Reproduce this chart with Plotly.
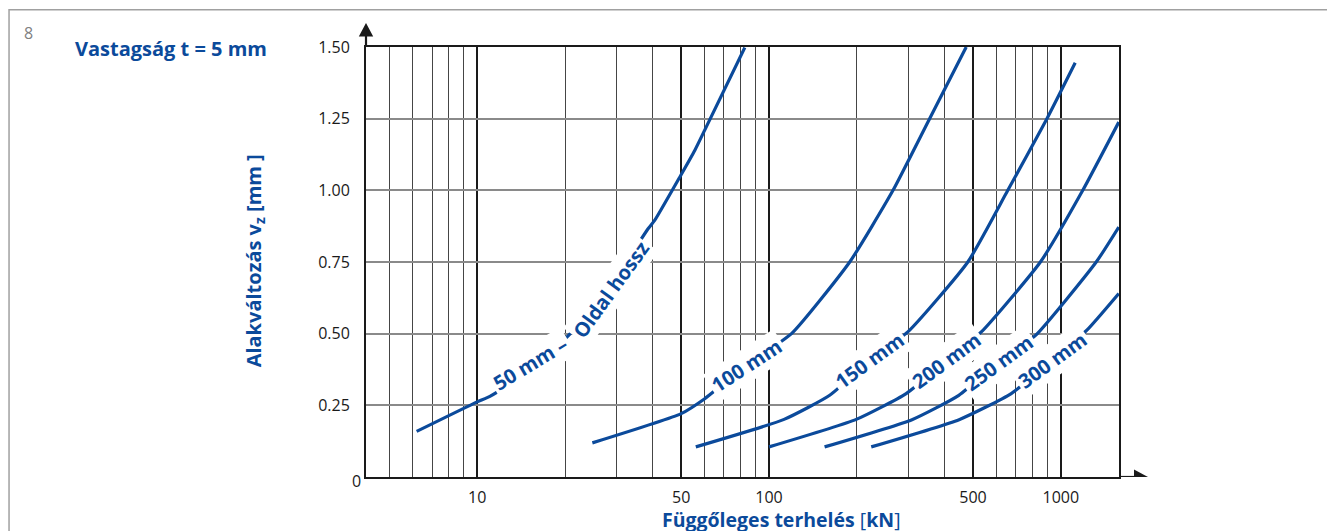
import math
import plotly.graph_objects as go

BLUE = "#0b4a9b"
FONT = "Open Sans"

# ---------------- data ----------------
x_50 = [6.2, 10.0, 11.05, 15.2, 20.8, 28.5, 38.5, 40.6, 49.8, 55.7, 60.2, 82.6]
y_50 = [0.159, 0.262, 0.281, 0.371, 0.499, 0.666, 0.866, 0.896, 1.052, 1.14, 1.21, 1.498]

x_100 = [24.8, 50, 60.2, 83.7, 119.4, 189, 266, 355, 474]
y_100 = [0.119, 0.221, 0.273, 0.39, 0.5, 0.75, 1.0, 1.25, 1.5]

x_150 = [56.1, 112.6, 161.4, 221, 299, 480, 658, 896, 1120]
y_150 = [0.105, 0.201, 0.285, 0.407, 0.506, 0.75, 1.0, 1.25, 1.445]

x_200 = [100, 199, 295, 406, 534, 851, 1189, 1580]
y_200 = [0.105, 0.201, 0.291, 0.407, 0.506, 0.75, 1.0, 1.238]

x_250 = [155, 309, 447, 613, 819, 1322, 1580]
y_250 = [0.105, 0.2, 0.285, 0.401, 0.494, 0.75, 0.872]

x_300 = [224, 448, 676, 933, 1228, 1580]
y_300 = [0.105, 0.2, 0.291, 0.407, 0.512, 0.64]

series = [
    (x_50, y_50), (x_100, y_100), (x_150, y_150),
    (x_200, y_200), (x_250, y_250), (x_300, y_300),
]

# curve labels: text, x, y, angle
label_text = ["50 mm –", "Oldal hossz", "100 mm", "150 mm", "200 mm", "250 mm", "300 mm"]
label_x = [15.2, 28.7, 83.7, 221, 405, 613, 933]
label_y = [0.397, 0.655, 0.39, 0.407, 0.407, 0.401, 0.407]
label_angle = [-31, -54, -33, -36, -36, -36, -36]

x_major = [10, 50, 100, 500, 1000]
x_major_text = ["10", "50", "100", "500", "1000"]
x_minor = [5, 6, 7, 8, 9, 20, 30, 40, 60, 70, 80, 90,
           200, 300, 400, 600, 700, 800, 900]
y_ticks = [0.25, 0.5, 0.75, 1.0, 1.25, 1.5]
y_ticks_text = ["0.25", "0.50", "0.75", "1.00", "1.25", "1.50"]
y_zero_text = "0"

X_RANGE_LOG = [0.6188, 3.1993]
Y_RANGE = [0, 1.5]

# ---------------- layout geometry ----------------
# the page body has an 8px margin, so page pixel = figure pixel + 8
OFF = 8
W, H = 1335, 531
PLOT_L, PLOT_R, PLOT_T, PLOT_B = 366, 1119.5, 46.7, 476.7   # page pixels
ML = PLOT_L - OFF
MT = PLOT_T - OFF
MR = W - (PLOT_R - OFF)
MB = H - (PLOT_B - OFF)
PW = PLOT_R - PLOT_L
PH = PLOT_B - PLOT_T


def px2paper_x(px):
    return (px - PLOT_L) / PW


def px2paper_y(py):
    return (PLOT_B - py) / PH


fig = go.Figure()
for xs, ys in series:
    fig.add_trace(go.Scatter(
        x=xs, y=ys, mode="lines",
        line=dict(color=BLUE, width=3.2, shape="spline", smoothing=0.5),
        hoverinfo="skip", showlegend=False,
    ))

annotations = []
for t, x, y, a in zip(label_text, label_x, label_y, label_angle):
    annotations.append(dict(
        x=math.log10(x), y=y, xref="x", yref="y", text=t, showarrow=False,
        textangle=a, bgcolor="white", borderpad=2,
        font=dict(family=FONT, size=20, color=BLUE, weight=700),
        xanchor="center", yanchor="middle",
    ))

# the "0" of the y axis sits a little right of the other tick labels
annotations.append(dict(
    x=px2paper_x(356), y=0, xref="paper", yref="y", yshift=-4,
    text=y_zero_text, showarrow=False, xanchor="center", yanchor="middle",
    font=dict(family=FONT, size=16, color="#1a1a1a"),
))

# corner texts
annotations.append(dict(
    x=px2paper_x(28.5), y=px2paper_y(33), xref="paper", yref="paper",
    text="8", showarrow=False, xanchor="center", yanchor="middle",
    font=dict(family=FONT, size=16, color="#808080"),
))
annotations.append(dict(
    x=px2paper_x(73), y=px2paper_y(48), xref="paper", yref="paper",
    text="Vastagság t = 5 mm", showarrow=False, xanchor="left", yanchor="middle",
    font=dict(family=FONT, size=20, color=BLUE, weight=700),
))
# axis titles
annotations.append(dict(
    x=px2paper_x(254), y=px2paper_y(261), xref="paper", yref="paper",
    text="Alakváltozás v<sub>z</sub> [mm ]", showarrow=False, textangle=-90,
    xanchor="center", yanchor="middle",
    font=dict(family=FONT, size=20, color=BLUE, weight=700),
))
annotations.append(dict(
    x=px2paper_x(781.5), y=px2paper_y(519), xref="paper", yref="paper",
    text="<b>Függőleges terhelés</b> [<b>kN</b>]", showarrow=False,
    xanchor="center", yanchor="middle",
    font=dict(family=FONT, size=19.5, color=BLUE),
))

shapes = [
    # outer frame
    dict(type="rect", xref="paper", yref="paper",
         x0=px2paper_x(8.8), x1=px2paper_x(1329), y0=px2paper_y(9.5), y1=px2paper_y(600),
         line=dict(color="#a0a0a0", width=1.5), fillcolor="rgba(0,0,0,0)", layer="below"),
    # x axis extension + arrow
    dict(type="line", xref="paper", xsizemode="pixel", xanchor=1, x0=0, x1=16,
         yref="y", y0=0, y1=0, line=dict(color="#1a1a1a", width=2.2)),
    dict(type="path", xref="paper", xsizemode="pixel", xanchor=1,
         yref="y", ysizemode="pixel", yanchor=0,
         path="M 15,-7.5 L 29,0 L 15,7.5 Z", fillcolor="#1a1a1a", line=dict(width=0)),
    # y axis extension + arrow
    dict(type="line", xref="paper", x0=0, x1=0,
         yref="paper", ysizemode="pixel", yanchor=1, y0=0, y1=12,
         line=dict(color="#1a1a1a", width=2.2)),
    dict(type="path", xref="paper", xsizemode="pixel", xanchor=0,
         yref="paper", ysizemode="pixel", yanchor=1,
         path="M -7.2,10.5 L 0,24 L 7.2,10.5 Z", fillcolor="#1a1a1a", line=dict(width=0)),
]

fig.update_layout(
    width=W, height=H,
    margin=dict(l=ML, r=MR, t=MT, b=MB, pad=0),
    paper_bgcolor="white", plot_bgcolor="white",
    showlegend=False,
    annotations=annotations,
    shapes=shapes,
    font=dict(family=FONT, size=16, color="#1a1a1a"),
    xaxis=dict(
        type="log", range=X_RANGE_LOG,
        tickmode="array", tickvals=x_major, ticktext=x_major_text,
        showgrid=True, gridcolor="#1a1a1a", gridwidth=2,
        minor=dict(tickmode="array", tickvals=x_minor, showgrid=True,
                   gridcolor="#454545", gridwidth=1),
        showline=True, linecolor="#1a1a1a", linewidth=2, mirror=True,
        ticks="", ticklabelstandoff=5,
        tickfont=dict(family=FONT, size=16, color="#1a1a1a"),
        zeroline=False, fixedrange=True,
    ),
    yaxis=dict(
        range=Y_RANGE,
        tickmode="array", tickvals=y_ticks, ticktext=y_ticks_text,
        showgrid=True, gridcolor="#8a8a8a", gridwidth=1.5,
        showline=True, linecolor="#1a1a1a", linewidth=2, mirror=True,
        ticks="", ticklabelstandoff=11,
        tickfont=dict(family=FONT, size=16, color="#1a1a1a"),
        zeroline=False, fixedrange=True,
    ),
)

fig.write_html("out.html")
